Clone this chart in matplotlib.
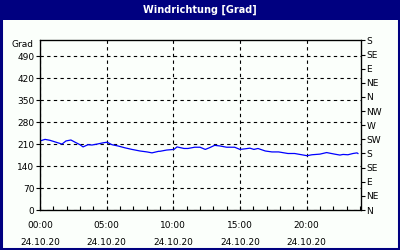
import matplotlib

matplotlib.use("Agg")
import matplotlib.pyplot as plt
from matplotlib.patches import Rectangle
from matplotlib.ticker import MultipleLocator

# hours since 24.10.20 00:00 and wind direction in degrees
HOURS = [0.0, 0.38, 0.75, 1.35, 1.65, 1.95, 2.32, 2.63, 3.0, 3.23, 3.6, 3.9,
         4.28, 4.73, 5.03, 5.4, 5.85, 6.38, 6.9, 7.5, 8.03, 8.4, 8.9, 9.0,
         9.5, 10.05, 10.28, 10.8, 11.1, 11.6, 12.0, 12.4, 12.75, 13.1, 13.5,
         14.0, 14.6, 15.0, 15.4, 15.75, 16.05, 16.35, 16.9, 17.4, 17.9, 18.6,
         19.1, 19.5, 20.03, 20.4, 21.0, 21.5, 22.1, 22.5, 22.73, 23.1, 23.48,
         23.78, 23.85]
DIRECTION = [220, 225, 222, 214, 210, 220, 223, 216, 208, 201, 208, 207,
             210, 214, 216, 208, 204, 198, 193, 188, 185, 182, 187, 187,
             191, 193, 201, 196, 196, 200, 200, 193, 199, 206, 204, 200,
             200, 193, 195, 197, 193, 196, 188, 185, 185, 180, 180, 177,
             173, 176, 178, 183, 178, 175, 177, 176, 180, 182, 180]

LEFT_TICKS = [0, 70, 140, 210, 280, 350, 420, 490]
RIGHT_TICKS = [0, 45, 90, 135, 180, 225, 270, 315, 360, 405, 450, 495, 540]
RIGHT_LABELS = ["N", "NE", "E", "SE", "S", "SW", "W", "NW", "N", "NE", "E", "SE", "S"]
X_TICKS = [0, 5, 10, 15, 20]
X_LABELS = ["00:00\n24.10.20", "05:00\n24.10.20", "10:00\n24.10.20",
            "15:00\n24.10.20", "20:00\n24.10.20"]

NAVY = "#000080"
FS = 6.5

fig = plt.figure(figsize=(4, 2.5), dpi=100, facecolor="#fbfffb")
fig.patches.append(Rectangle((0, 1 - 20 / 250), 1, 20 / 250, transform=fig.transFigure,
                             facecolor=NAVY, edgecolor="none", zorder=0))
fig.patches.append(Rectangle((0.002, 0.004), 0.996, 0.992, transform=fig.transFigure,
                             facecolor="none", edgecolor=NAVY, linewidth=2.2, zorder=5))
fig.text(0.5, 1 - 10 / 250, "Windrichtung [Grad]", color="white", fontsize=7,
         fontweight="bold", ha="center", va="center")

ax = fig.add_axes([40 / 400, 40 / 250, 321 / 400, 169.5 / 250])
ax.set_facecolor("#fbfffb")
ax.plot(HOURS, DIRECTION, color="#0000ff", linewidth=0.9)
ax.set_xlim(0, 24.08)
ax.set_ylim(0, 540)

ax.set_yticks(LEFT_TICKS)
ax.set_yticklabels([str(v) for v in LEFT_TICKS], fontsize=FS)
ax.set_xticks(X_TICKS)
ax.set_xticklabels(X_LABELS, fontsize=FS, linespacing=2.1)
ax.xaxis.set_minor_locator(MultipleLocator(1))
ax.tick_params(axis="x", which="both", direction="in", length=3, width=0.8, pad=8)
ax.tick_params(axis="y", direction="out", length=3, width=0.8, pad=1)
ax.grid(True, which="major", color="black", linestyle=(0, (3, 3)), linewidth=0.8)
for spine in ax.spines.values():
    spine.set_linewidth(0.9)

ax.text(-0.02, 1.0, "Grad", transform=ax.transAxes, fontsize=FS, ha="right", va="top")

ax2 = ax.twinx()
ax2.set_ylim(0, 540)
ax2.set_yticks(RIGHT_TICKS)
ax2.set_yticklabels(RIGHT_LABELS, fontsize=FS)
ax2.tick_params(axis="y", direction="out", length=3, width=0.8, pad=1)

fig.savefig("out.png", dpi=100, facecolor=fig.get_facecolor())
